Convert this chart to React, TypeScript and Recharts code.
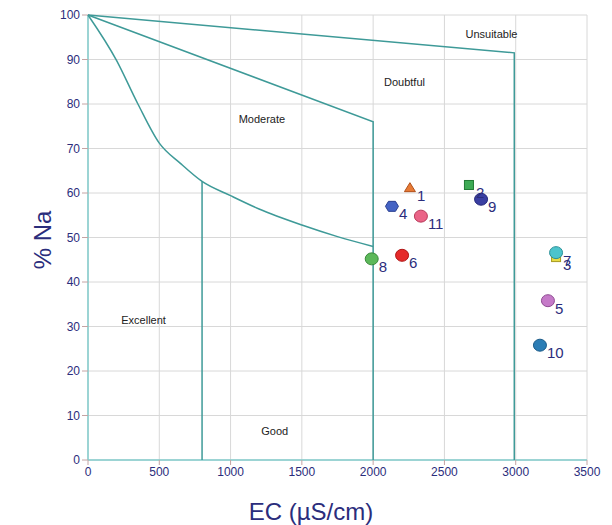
import React from 'react';
import { CartesianGrid, ComposedChart, Label, Scatter, XAxis, YAxis } from 'recharts';

const EC_TICKS = [0, 500, 1000, 1500, 2000, 2500, 3000, 3500];
const NA_TICKS = [0, 10, 20, 30, 40, 50, 60, 70, 80, 90, 100];

// class boundaries of the Wilcox diagram
const UNSUITABLE_EDGE = [
  { x: 0, y: 100 },
  { x: 2990, y: 91.5 },
  { x: 2990, y: 0 },
];
const DOUBTFUL_EDGE = [
  { x: 0, y: 100 },
  { x: 2000, y: 76 },
  { x: 2000, y: 0 },
];
const EXCELLENT_CURVE = [
  { x: 0, y: 100 },
  { x: 200, y: 89.8 },
  { x: 350, y: 80 },
  { x: 500, y: 71.2 },
  { x: 650, y: 66.6 },
  { x: 800, y: 62.6 },
  { x: 1000, y: 59.4 },
  { x: 1200, y: 56.4 },
  { x: 1500, y: 52.8 },
  { x: 1750, y: 50.2 },
  { x: 2000, y: 48 },
];
const GOOD_EDGE = [
  { x: 800, y: 62.6 },
  { x: 800, y: 0 },
];

const ZONE_NAMES = ['Unsuitable', 'Doubtful', 'Moderate', 'Excellent', 'Good'];
const ZONE_EC = [2830, 2220, 1220, 390, 1310];
const ZONE_NA = [95.7, 85, 76.6, 31.5, 6.5];

const SAMPLE_IDS = ['1', '2', '3', '4', '5', '6', '7', '8', '9', '10', '11'];
const SAMPLE_EC = [2258, 2672, 3283, 2132, 3226, 2203, 3283, 1990, 2757, 3170, 2335];
const SAMPLE_NA = [61.2, 61.8, 45.6, 57, 35.8, 46, 46.6, 45.2, 58.6, 25.8, 54.8];
const SAMPLE_SHAPES = ['triangle', 'square', 'square', 'hexagon', 'circle', 'circle', 'circle', 'circle', 'circle', 'circle', 'circle'];
const SAMPLE_FILLS = ['#e87a35', '#3eaa55', '#e8dc45', '#4463c4', '#c57ac8', '#e52a2a', '#4cc4cc', '#5cb85a', '#3a3fa2', '#2c7db5', '#ea6487'];
const SAMPLE_STROKES = ['#b0501a', '#227a35', '#a89a20', '#2a3f90', '#8e4a92', '#b01515', '#2a9098', '#3a8a3a', '#25287a', '#1a5a88', '#b83a5a'];

const FONT = 'Arial, "Liberation Sans", sans-serif';
const NAVY = '#2b2d7c';
const TEAL = '#3e9a98';

const samples = SAMPLE_IDS.map((id, i) => ({
  id,
  x: SAMPLE_EC[i],
  y: SAMPLE_NA[i],
  shape: SAMPLE_SHAPES[i],
  fill: SAMPLE_FILLS[i],
  stroke: SAMPLE_STROKES[i],
}));
const zones = ZONE_NAMES.map((name, i) => ({ name, x: ZONE_EC[i], y: ZONE_NA[i] }));

const noDot = () => <g />;

function Marker(props: any) {
  const { cx, cy, payload } = props;
  const { fill, stroke, shape } = payload;
  if (shape === 'triangle') {
    return <polygon points={`${cx},${cy - 5} ${cx + 5.5},${cy + 4} ${cx - 5.5},${cy + 4}`} fill={fill} stroke={stroke} strokeWidth={1} />;
  }
  if (shape === 'square') {
    return <rect x={cx - 4.5} y={cy - 4.5} width={9} height={9} fill={fill} stroke={stroke} strokeWidth={1} />;
  }
  if (shape === 'hexagon') {
    const pts = [
      [cx - 6.5, cy],
      [cx - 3.5, cy - 5],
      [cx + 3.5, cy - 5],
      [cx + 6.5, cy],
      [cx + 3.5, cy + 5],
      [cx - 3.5, cy + 5],
    ]
      .map((p) => p.join(','))
      .join(' ');
    return <polygon points={pts} fill={fill} stroke={stroke} strokeWidth={1} />;
  }
  return <ellipse cx={cx} cy={cy} rx={6.5} ry={6} fill={fill} stroke={stroke} strokeWidth={1} />;
}

function SampleLabel(props: any) {
  const { cx, cy, payload } = props;
  return (
    <text x={cx + 7} y={cy + 13} fill={NAVY} fontSize={15} fontFamily={FONT}>
      {payload.id}
    </text>
  );
}

function ZoneLabel(props: any) {
  const { cx, cy, payload } = props;
  return (
    <text x={cx} y={cy} fill="#222" fontSize={11} fontFamily={FONT} textAnchor="middle" dominantBaseline="central">
      {payload.name}
    </text>
  );
}

export default function App() {
  const tick = { fill: NAVY, fontSize: 12, fontFamily: FONT };
  return (
    <div style={{ position: 'absolute', left: 0, top: 0, width: 612, height: 525, background: '#fff' }}>
      <ComposedChart width={612} height={525} margin={{ top: 15, right: 25, bottom: 35, left: 0 }}>
        <CartesianGrid stroke="#d8d8d8" strokeWidth={1} />
        <XAxis
          type="number"
          dataKey="x"
          domain={[0, 3500]}
          ticks={EC_TICKS}
          interval={0}
          tick={tick}
          tickSize={5}
          tickLine={{ stroke: '#c4a4a4' }}
          axisLine={{ stroke: '#82cccc', strokeWidth: 1.5 }}
          height={30}
        >
          <Label
            content={() => (
              <text x={311} y={520} fill={NAVY} fontSize={24} fontFamily={FONT} textAnchor="middle">
                EC (µS/cm)
              </text>
            )}
          />
        </XAxis>
        <YAxis
          type="number"
          dataKey="y"
          domain={[0, 100]}
          ticks={NA_TICKS}
          interval={0}
          tick={tick}
          tickSize={6}
          tickLine={{ stroke: '#c4a4a4' }}
          axisLine={{ stroke: '#82cccc', strokeWidth: 1.5 }}
          width={88}
        >
          <Label
            content={() => (
              <text
                x={51}
                y={240}
                fill={NAVY}
                fontSize={24}
                fontFamily={FONT}
                textAnchor="middle"
                transform="rotate(-90 51 240)"
              >
                % Na
              </text>
            )}
          />
        </YAxis>
        <Scatter data={UNSUITABLE_EDGE} line={{ stroke: TEAL, strokeWidth: 1.5 }} shape={noDot} isAnimationActive={false} />
        <Scatter data={DOUBTFUL_EDGE} line={{ stroke: TEAL, strokeWidth: 1.5 }} shape={noDot} isAnimationActive={false} />
        <Scatter
          data={EXCELLENT_CURVE}
          line={{ stroke: TEAL, strokeWidth: 1.5 }}
          lineJointType="monotoneX"
          shape={noDot}
          isAnimationActive={false}
        />
        <Scatter data={GOOD_EDGE} line={{ stroke: TEAL, strokeWidth: 1.5 }} shape={noDot} isAnimationActive={false} />
        <Scatter data={zones} shape={ZoneLabel} isAnimationActive={false} />
        <Scatter data={samples} shape={Marker} isAnimationActive={false} />
        <Scatter data={samples} shape={SampleLabel} isAnimationActive={false} />
      </ComposedChart>
    </div>
  );
}
